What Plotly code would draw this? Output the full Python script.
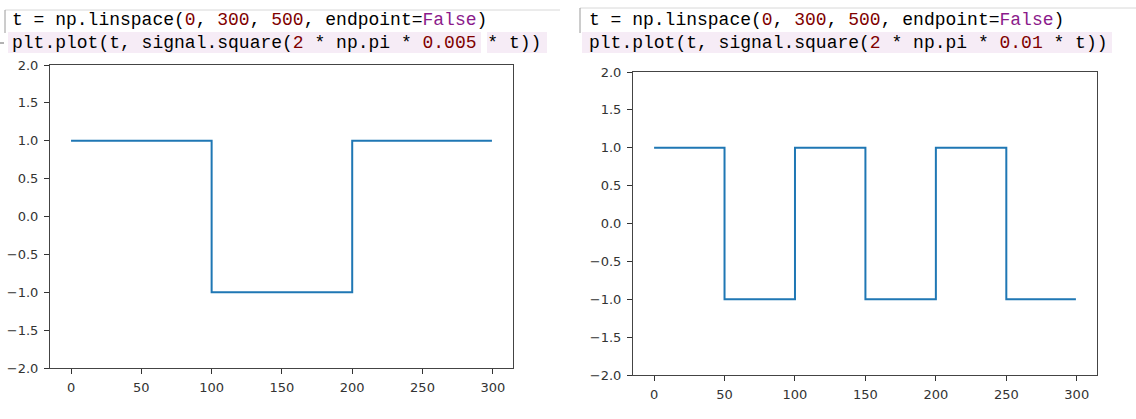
import plotly.graph_objects as go

# ---- data ----
# left panel: square wave with f = 0.005 (corner points of the step curve)
left_t = [0, 100, 200, 299.4]
left_y = [1, -1, 1, 1]
# right panel: square wave with f = 0.01
right_t = [0, 50, 100, 150, 200, 250, 299.4]
right_y = [1, -1, 1, -1, 1, -1, -1]

x_ticks = [0, 50, 100, 150, 200, 250, 300]
y_ticks = [-2.0, -1.5, -1.0, -0.5, 0.0, 0.5, 1.0, 1.5, 2.0]

code_line1 = ('t = np.linspace(<span style="color:#800000">0</span>, '
              '<span style="color:#800000">300</span>, '
              '<span style="color:#800000">500</span>, endpoint=<span style="color:#8b1a8b">False</span>)')
code_left2 = ('plt.plot(t, signal.square(<span style="color:#800000">2</span> * np.pi * '
              '<span style="color:#800000">0.005</span> * t))')
code_right2 = ('plt.plot(t, signal.square(<span style="color:#800000">2</span> * np.pi * '
               '<span style="color:#800000">0.01</span> * t))')

W, H = 1136, 419
def px(x):
    return x / W
def py(y):
    return 1 - y / H

LINE = "#1f77b4"
fig = go.Figure()
fig.add_trace(go.Scatter(x=left_t, y=left_y, mode="lines", line_shape="hv",
                         line=dict(color=LINE, width=2), xaxis="x", yaxis="y",
                         showlegend=False, hoverinfo="skip"))
fig.add_trace(go.Scatter(x=right_t, y=right_y, mode="lines", line_shape="hv",
                         line=dict(color=LINE, width=2), xaxis="x2", yaxis="y2",
                         showlegend=False, hoverinfo="skip"))

axfont = dict(family="DejaVu Sans", size=13, color="#333333")
xcommon = dict(range=[-14.97, 314.37], tickvals=x_ticks, ticks="outside", ticklen=5,
               tickcolor="#333333", showline=True, linecolor="#444444", linewidth=1,
               mirror=True, showgrid=False, zeroline=False, tickfont=axfont, automargin=False,
               ticklabelstandoff=2)
ycommon = dict(range=[-2, 2], tickvals=y_ticks, tickformat=".1f", ticks="outside", ticklen=5,
               tickcolor="#333333", showline=True, linecolor="#444444", linewidth=1,
               mirror=True, showgrid=False, zeroline=False, tickfont=axfont, automargin=False,
               ticklabelstandoff=3)

fig.update_layout(
    width=W, height=H,
    margin=dict(l=0, r=0, t=0, b=0, pad=0),
    paper_bgcolor="white", plot_bgcolor="white",
    xaxis=dict(domain=[px(50), px(513)], anchor="y", **xcommon),
    yaxis=dict(domain=[py(368), py(65)], anchor="x", **ycommon),
    xaxis2=dict(domain=[px(633), px(1097)], anchor="y2", **xcommon),
    yaxis2=dict(domain=[py(375), py(72)], anchor="x2", **ycommon),
)

shapes = [
    # pink highlight behind second code line (left)
    dict(type="rect", xref="paper", yref="paper", x0=px(8), x1=px(481), y0=py(53), y1=py(32),
         fillcolor="#f6ecf6", line=dict(width=0), layer="below"),
    dict(type="rect", xref="paper", yref="paper", x0=px(487), x1=px(547), y0=py(53), y1=py(32),
         fillcolor="#f6ecf6", line=dict(width=0), layer="below"),
    # pink highlight (right)
    dict(type="rect", xref="paper", yref="paper", x0=px(582), x1=px(1112), y0=py(53), y1=py(32),
         fillcolor="#f6ecf6", line=dict(width=0), layer="below"),
    # thin gray editor borders
    dict(type="line", xref="paper", yref="paper", x0=px(5), x1=px(560), y0=py(10), y1=py(10),
         line=dict(color="#d8d8d8", width=1)),
    dict(type="line", xref="paper", yref="paper", x0=px(5), x1=px(5), y0=py(10), y1=py(33),
         line=dict(color="#9a9a9a", width=1)),
    dict(type="line", xref="paper", yref="paper", x0=px(0), x1=px(4), y0=py(43), y1=py(43),
         line=dict(color="#666666", width=1)),
    dict(type="line", xref="paper", yref="paper", x0=px(580), x1=px(1136), y0=py(8), y1=py(8),
         line=dict(color="#d8d8d8", width=1)),
    dict(type="line", xref="paper", yref="paper", x0=px(580), x1=px(580), y0=py(8), y1=py(33),
         line=dict(color="#9a9a9a", width=1)),
]
fig.update_layout(shapes=shapes)

codefont = dict(family="Liberation Mono", size=18, color="#000000")
anns = [
    (10, 20, code_line1),
    (10, 43, code_left2),
    (587, 20, code_line1),
    (587, 43, code_right2),
]
fig.update_layout(annotations=[
    dict(text=t, xref="paper", yref="paper", x=px(x), y=py(y), xanchor="left", yanchor="middle",
         showarrow=False, font=codefont, align="left")
    for x, y, t in anns
])

fig.write_html("out.html", config={"displayModeBar": False},
               post_script="document.body.style.margin='0';document.body.style.overflow='hidden';")
